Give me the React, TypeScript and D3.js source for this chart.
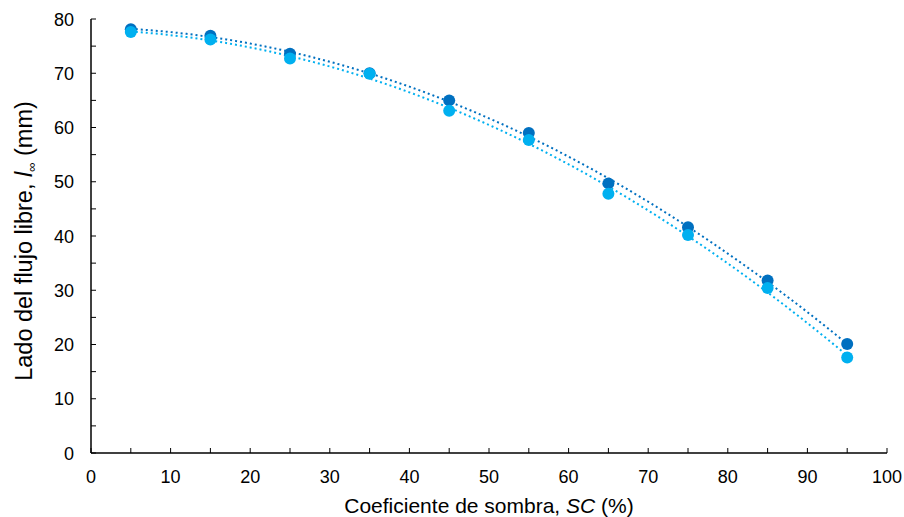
import React from "react";
import * as d3 from "d3";

const sc = [5, 15, 25, 35, 45, 55, 65, 75, 85, 95];
const seriesDark = [78.1, 76.9, 73.6, 70.0, 65.0, 59.0, 49.7, 41.6, 31.8, 20.1];
const seriesLight = [77.6, 76.2, 72.7, 69.9, 63.1, 57.7, 47.8, 40.2, 30.4, 17.6];
const xTicks = [0, 10, 20, 30, 40, 50, 60, 70, 80, 90, 100];
const yTicks = [0, 10, 20, 30, 40, 50, 60, 70, 80];
const colors = ["#0070C0", "#00B0F0"];

function quadFit(xs: number[], ys: number[]) {
  const n = xs.length;
  const s = [0, 0, 0, 0, 0];
  const t = [0, 0, 0];
  for (let i = 0; i < n; i++) {
    for (let k = 0; k < 5; k++) s[k] += Math.pow(xs[i], k);
    for (let k = 0; k < 3; k++) t[k] += ys[i] * Math.pow(xs[i], k);
  }
  const A = [
    [s[0], s[1], s[2], t[0]],
    [s[1], s[2], s[3], t[1]],
    [s[2], s[3], s[4], t[2]],
  ];
  for (let i = 0; i < 3; i++) {
    for (let j = i + 1; j < 3; j++) {
      const f = A[j][i] / A[i][i];
      for (let k = i; k < 4; k++) A[j][k] -= f * A[i][k];
    }
  }
  const c = [0, 0, 0];
  for (let i = 2; i >= 0; i--) {
    let v = A[i][3];
    for (let k = i + 1; k < 3; k++) v -= A[i][k] * c[k];
    c[i] = v / A[i][i];
  }
  return (x: number) => c[0] + c[1] * x + c[2] * x * x;
}

export default function App() {
  const W = 904, H = 517;
  const x = d3.scaleLinear().domain([0, 100]).range([91, 887]);
  const y = d3.scaleLinear().domain([0, 80]).range([453, 19]);
  const font = "'Liberation Sans', Arial, sans-serif";
  const minorX = d3.range(0, 101, 5);
  const minorY = d3.range(0, 81, 5);
  const series = [seriesDark, seriesLight];
  const line = d3.line<number[]>().x((d) => x(d[0])).y((d) => y(d[1]));

  return (
    <svg width={W} height={H} style={{ position: "absolute", left: 0, top: 0, background: "#fff" }} fontFamily={font}>
      {series.map((s, i) => {
        const f = quadFit(sc, s);
        const pts = d3.range(5, 95.01, 0.5).map((v) => [v, f(v)]);
        return (
          <path key={"t" + i} d={line(pts) || ""} fill="none" stroke={colors[i]} strokeWidth={2} strokeDasharray="2 3" />
        );
      })}
      {series.map((s, i) =>
        s.map((v, j) => <circle key={"p" + i + "-" + j} cx={x(sc[j])} cy={y(v)} r={6} fill={colors[i]} />)
      )}
      <line x1={x(0)} x2={x(100)} y1={y(0)} y2={y(0)} stroke="#000" strokeWidth={1.5} />
      <line x1={x(0)} x2={x(0)} y1={y(0)} y2={y(80)} stroke="#000" strokeWidth={1.5} />
      {minorX.map((v) => (
        <line key={"mx" + v} x1={x(v)} x2={x(v)} y1={y(0)} y2={y(0) - 5} stroke="#000" strokeWidth={1} />
      ))}
      {minorY.map((v) => (
        <line key={"my" + v} x1={x(0)} x2={x(0) + 5} y1={y(v)} y2={y(v)} stroke="#000" strokeWidth={1} />
      ))}
      {xTicks.map((v) => (
        <text key={"xl" + v} x={x(v)} y={483} textAnchor="middle" fontSize={18} fill="#000">
          {v}
        </text>
      ))}
      {yTicks.map((v) => (
        <text key={"yl" + v} x={74} y={y(v) + 6.5} textAnchor="end" fontSize={18} fill="#000">
          {v}
        </text>
      ))}
      <text x={489} y={513} textAnchor="middle" fontSize={21} fill="#000">
        Coeficiente de sombra, <tspan fontStyle="italic">SC</tspan> (%)
      </text>
      <text transform={`translate(32,241) rotate(-90)`} textAnchor="middle" fontSize={23.5} fill="#000">
        Lado del flujo libre, <tspan fontStyle="italic">l</tspan>
        <tspan fontSize={13} dy={4}>∞</tspan>
        <tspan dy={-4}> (mm)</tspan>
      </text>
    </svg>
  );
}
